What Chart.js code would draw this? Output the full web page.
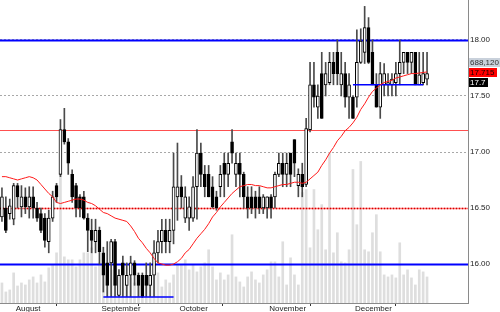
<!DOCTYPE html>
<html>
<head>
<meta charset="utf-8">
<script src="https://cdn.jsdelivr.net/npm/chart.js@4"></script>
<style>
  html, body { margin: 0; padding: 0; background: #fff; }
  canvas { display: block; }
</style>
</head>
<body>
<canvas id="chart" width="500" height="312"></canvas>
<script>
// daily candles, mid July to end of December
const opens = [
    16.42, 16.50, 16.45, 16.40, 16.70, 16.51, 16.60, 16.51, 16.60, 16.50,
    16.45, 16.41, 16.20, 16.41, 16.70, 16.80, 17.20, 17.09, 16.80, 16.70,
    16.60, 16.60, 16.41, 16.30, 16.20, 16.30, 16.10, 16.01, 16.01, 16.20,
    15.72, 16.01, 15.81, 15.90, 16.01, 15.90, 15.90, 15.90, 15.81, 15.90,
    16.10, 16.20, 16.30, 16.20, 16.30, 16.60, 16.69, 16.41, 16.41, 16.41,
    16.69, 16.99, 16.80, 16.80, 16.69, 16.60, 16.69, 16.90, 16.80, 17.09,
    16.80, 16.90, 16.80, 16.60, 16.60, 16.60, 16.60, 16.50, 16.50, 16.60,
    16.60, 16.80, 16.90, 16.80, 16.99, 17.11, 16.70, 16.80, 16.71, 17.20,
    17.60, 17.40, 17.70, 17.60, 17.62, 17.80, 17.89, 17.60, 17.70, 17.49,
    17.49, 17.49, 17.80, 17.89, 18.11, 17.89, 17.60, 17.40, 17.60, 17.60,
    17.60, 17.62, 17.70, 17.80, 17.89, 17.80, 17.89, 17.60, 17.62, 17.65
];
const highs = [
    16.68, 16.60, 16.58, 16.72, 16.72, 16.70, 16.68, 16.69, 16.69, 16.55,
    16.50, 16.45, 16.48, 16.65, 16.72, 17.29, 17.39, 17.12, 16.84, 16.72,
    16.62, 16.65, 16.45, 16.40, 16.40, 16.33, 16.15, 16.20, 16.22, 16.22,
    15.95, 16.07, 16.01, 16.07, 16.03, 15.92, 15.92, 16.01, 16.01, 16.21,
    16.30, 16.40, 16.40, 16.40, 16.99, 17.08, 16.79, 16.69, 16.60, 16.78,
    17.20, 17.08, 16.88, 16.88, 16.78, 16.65, 16.88, 16.99, 16.99, 17.20,
    16.99, 16.99, 16.82, 16.69, 16.69, 16.65, 16.69, 16.62, 16.60, 16.62,
    16.82, 16.99, 16.99, 16.99, 16.99, 17.11, 16.85, 16.90, 17.30, 17.80,
    17.80, 17.60, 17.89, 17.80, 17.89, 17.89, 18.00, 17.89, 17.80, 17.70,
    17.50, 18.09, 18.10, 18.30, 18.20, 18.00, 17.70, 17.80, 17.79, 17.70,
    17.70, 17.80, 18.00, 17.89, 17.89, 17.89, 17.89, 17.89, 17.89, 17.89
];
const lows = [
    16.38, 16.28, 16.40, 16.35, 16.50, 16.42, 16.45, 16.41, 16.41, 16.38,
    16.28, 16.15, 16.10, 16.38, 16.55, 16.78, 17.07, 16.80, 16.55, 16.42,
    16.42, 16.40, 16.11, 16.10, 16.10, 16.00, 15.75, 15.71, 15.71, 15.71,
    15.71, 15.71, 15.71, 15.71, 15.81, 15.71, 15.70, 15.71, 15.71, 15.71,
    16.01, 16.10, 16.10, 16.10, 16.18, 16.39, 16.50, 16.37, 16.30, 16.38,
    16.40, 16.69, 16.60, 16.60, 16.50, 16.48, 16.60, 16.60, 16.69, 16.90,
    16.69, 16.60, 16.50, 16.41, 16.45, 16.41, 16.45, 16.45, 16.41, 16.41,
    16.50, 16.78, 16.69, 16.69, 16.69, 16.78, 16.60, 16.60, 16.69, 17.18,
    17.40, 17.30, 17.30, 17.50, 17.60, 17.60, 17.60, 17.50, 17.40, 17.30,
    17.30, 17.40, 17.79, 17.79, 17.79, 17.60, 17.40, 17.30, 17.50, 17.50,
    17.50, 17.50, 17.60, 17.70, 17.70, 17.70, 17.60, 17.60, 17.60, 17.60
];
const closes = [
    16.60, 16.30, 16.52, 16.70, 16.60, 16.60, 16.51, 16.60, 16.50, 16.41,
    16.30, 16.21, 16.41, 16.60, 16.60, 17.20, 17.09, 16.90, 16.60, 16.50,
    16.50, 16.41, 16.30, 16.21, 16.30, 16.11, 15.90, 15.81, 16.20, 15.81,
    15.90, 15.90, 15.90, 16.01, 15.90, 15.81, 15.71, 15.81, 15.90, 16.10,
    16.20, 16.30, 16.20, 16.30, 16.69, 16.69, 16.60, 16.60, 16.51, 16.69,
    16.99, 16.80, 16.69, 16.60, 16.51, 16.50, 16.80, 16.80, 16.90, 16.99,
    16.90, 16.80, 16.60, 16.50, 16.50, 16.50, 16.50, 16.60, 16.60, 16.50,
    16.80, 16.90, 16.80, 16.90, 16.80, 16.90, 16.80, 16.69, 17.21, 17.60,
    17.49, 17.50, 17.30, 17.70, 17.80, 17.70, 17.70, 17.70, 17.49, 17.60,
    17.30, 17.80, 17.99, 18.11, 17.80, 17.60, 17.40, 17.70, 17.70, 17.62,
    17.65, 17.70, 17.80, 17.89, 17.80, 17.89, 17.60, 17.69, 17.70, 17.70
];
const movingAvg = [
    16.78, 16.78, 16.77, 16.76, 16.75, 16.76, 16.77, 16.78, 16.77, 16.75,
    16.71, 16.67, 16.63, 16.60, 16.55, 16.54, 16.55, 16.56, 16.57, 16.58,
    16.58, 16.57, 16.55, 16.54, 16.52, 16.49, 16.46, 16.45, 16.43, 16.41,
    16.40, 16.39, 16.38, 16.34, 16.29, 16.23, 16.19, 16.14, 16.10, 16.05,
    16.01, 16.00, 15.99, 15.99, 16.00, 16.02, 16.05, 16.10, 16.13, 16.18,
    16.23, 16.27, 16.31, 16.36, 16.42, 16.46, 16.51, 16.55, 16.59, 16.63,
    16.66, 16.69, 16.70, 16.71, 16.71, 16.70, 16.70, 16.69, 16.68, 16.68,
    16.69, 16.70, 16.71, 16.71, 16.72, 16.73, 16.73, 16.72, 16.73, 16.76,
    16.79, 16.82, 16.88, 16.93, 16.99, 17.04, 17.10, 17.14, 17.19, 17.22,
    17.26, 17.31, 17.38, 17.43, 17.49, 17.54, 17.57, 17.60, 17.62, 17.63,
    17.64, 17.66, 17.67, 17.68, 17.69, 17.70, 17.70, 17.705, 17.71, 17.715
];
const volumes = [
    530000, 292000, 345000, 795000, 450000, 530000, 477000, 610000, 689000, 530000,
    742000, 557000, 928000, 1007000, 1325000, 4187000, 1219000, 1140000, 1140000, 954000,
    1140000, 1325000, 1325000, 1458000, 954000, 1060000, 1007000, 928000, 875000, 689000,
    610000, 742000, 557000, 663000, 530000, 716000, 477000, 610000, 530000, 875000,
    795000, 424000, 610000, 530000, 742000, 1007000, 1007000, 1140000, 875000, 1007000,
    822000, 954000, 1060000, 1405000, 954000, 610000, 795000, 610000, 742000, 1802000,
    689000, 557000, 424000, 689000, 822000, 610000, 530000, 742000, 875000, 1087000,
    1087000, 689000, 1617000, 477000, 1193000, 742000, 477000, 2915000, 2995000, 1458000,
    2995000, 1935000, 2597000, 1405000, 3975000, 1325000, 1855000, 1087000, 1060000, 1405000,
    3525000, 2067000, 3737000, 1405000, 1352000, 1855000, 2332000, 1352000, 742000, 689000,
    742000, 663000, 1590000, 742000, 875000, 663000, 477000, 875000, 822000, 688120
];

const totalSlots = 120;
const monthIndexes = [3, 25, 45, 68, 90];
const monthNames = ['August', 'September', 'October', 'November', 'December'];
const priceTicks = [16.00, 16.50, 17.00, 17.50, 18.00];

const blueLevels = [18.00, 16.00];
const redLevels = [17.20];
const redDottedLevels = [16.50];
const supportStart = [26, 90];
const supportEnd = [44, 108];
const supportLevel = [15.705, 17.60];

Chart.defaults.font.family = "'Liberation Sans', Arial, sans-serif";
Chart.defaults.font.size = 8;
Chart.defaults.color = '#222';

const labels = Array.from({ length: totalSlots }, (_, i) => i);
const bodyColors = opens.map((o, i) => closes[i] >= o ? '#ffffff' : '#000000');

const supportSets = supportLevel.map((lvl, k) => ({
    type: 'line',
    data: [{ x: supportStart[k], y: lvl }, { x: supportEnd[k], y: lvl }],
    yAxisID: 'y',
    borderColor: '#0000ff',
    borderWidth: 1.5,
    pointRadius: 0,
    order: 1
}));

const levelLines = {
    id: 'levelLines',
    beforeDatasetDraw(chart, args) {
        if (args.index !== 1) return;
        const { ctx, chartArea } = chart;
        const y = chart.scales.y;
        const hline = (v, color, width, dash) => {
            const py = Math.round(y.getPixelForValue(v)) + 0.5;
            ctx.save();
            ctx.strokeStyle = color;
            ctx.lineWidth = width;
            ctx.setLineDash(dash);
            ctx.beginPath();
            ctx.moveTo(chartArea.left, py);
            ctx.lineTo(chartArea.right, py);
            ctx.stroke();
            ctx.restore();
        };
        redLevels.forEach(v => hline(v, '#ff5050', 1, []));
        redDottedLevels.forEach(v => {
            hline(v, '#ff7070', 1.5, []);
            hline(v, '#d00000', 1.5, [1, 2]);
        });
        blueLevels.forEach(v => hline(v, '#0000ff', 2, []));
    }
};

const lastValues = {
    id: 'lastValues',
    afterDraw(chart) {
        const { ctx, chartArea } = chart;
        const y = chart.scales.y;
        const n = closes.length - 1;
        const maY = Math.round(y.getPixelForValue(movingAvg[n]));
        const boxes = [
            { text: volumes[n].toLocaleString('en-US'), cy: maY - 10, bg: '#c9d1db', fg: '#333' },
            { text: movingAvg[n].toFixed(3), cy: maY, bg: '#ff0000', fg: '#1a0000' },
            { text: String(closes[n]), cy: maY + 10, bg: '#000000', fg: '#ffffff' }
        ];
        ctx.save();
        ctx.font = "8px 'Liberation Sans', Arial, sans-serif";
        ctx.textBaseline = 'middle';
        boxes.forEach(b => {
            const w = Math.ceil(ctx.measureText(b.text).width) + 3;
            ctx.fillStyle = b.bg;
            ctx.fillRect(chartArea.right + 1, b.cy - 4, w, 9);
            ctx.fillStyle = b.fg;
            ctx.fillText(b.text, chartArea.right + 2, b.cy + 0.5);
        });
        ctx.restore();
    }
};

new Chart(document.getElementById('chart'), {
    data: {
        labels: labels,
        datasets: [
            {
                type: 'bar',
                data: volumes,
                yAxisID: 'yVol',
                backgroundColor: '#dedede',
                barThickness: 2,
                grouped: false,
                order: 10
            },
            {
                type: 'bar',
                data: lows.map((l, i) => [l, highs[i]]),
                yAxisID: 'y',
                backgroundColor: '#4a4a4a',
                barThickness: 1,
                grouped: false,
                order: 3
            },
            {
                type: 'bar',
                data: opens.map((o, i) => [Math.min(o, closes[i]), Math.max(o, closes[i])]),
                yAxisID: 'y',
                backgroundColor: bodyColors,
                borderColor: '#000000',
                borderWidth: 1,
                borderSkipped: false,
                barThickness: 3,
                grouped: false,
                order: 2
            },
            {
                type: 'line',
                data: movingAvg,
                yAxisID: 'y',
                borderColor: '#ff1a1a',
                borderWidth: 1,
                pointRadius: 0,
                tension: 0,
                order: 1
            },
            ...supportSets
        ]
    },
    options: {
        responsive: false,
        animation: false,
        layout: { padding: 0 },
        plugins: {
            legend: { display: false },
            tooltip: { enabled: false }
        },
        scales: {
            x: {
                type: 'category',
                offset: true,
                afterFit: (scale) => {
                    scale.height = 9;
                    scale.paddingLeft = 0;
                    scale.paddingRight = 0;
                },
                grid: {
                    drawOnChartArea: false,
                    drawTicks: true,
                    tickLength: 3,
                    color: '#333'
                },
                border: { display: true, color: '#8a8a8a', width: 1 },
                ticks: {
                    autoSkip: false,
                    maxRotation: 0,
                    align: 'start',
                    labelOffset: 2,
                    padding: -2,
                    callback: (value, index) => {
                        const k = monthIndexes.indexOf(index);
                        return k === -1 ? null : monthNames[k];
                    }
                }
            },
            y: {
                position: 'right',
                min: 15.652,
                max: 18.357,
                afterFit: (scale) => {
                    scale.width = 32;
                    scale.paddingTop = 0;
                    scale.paddingBottom = 0;
                },
                afterBuildTicks: (scale) => {
                    scale.ticks = priceTicks.map(v => ({ value: v }));
                },
                grid: {
                    drawTicks: false,
                    color: '#a8a8a8'
                },
                border: { display: true, color: '#8a8a8a', width: 1, dash: [2, 2] },
                ticks: {
                    padding: 2,
                    callback: (v) => v.toFixed(2)
                }
            },
            yVol: {
                display: false,
                min: 0,
                max: 8000000
            }
        }
    },
    plugins: [levelLines, lastValues]
});
</script>
</body>
</html>
